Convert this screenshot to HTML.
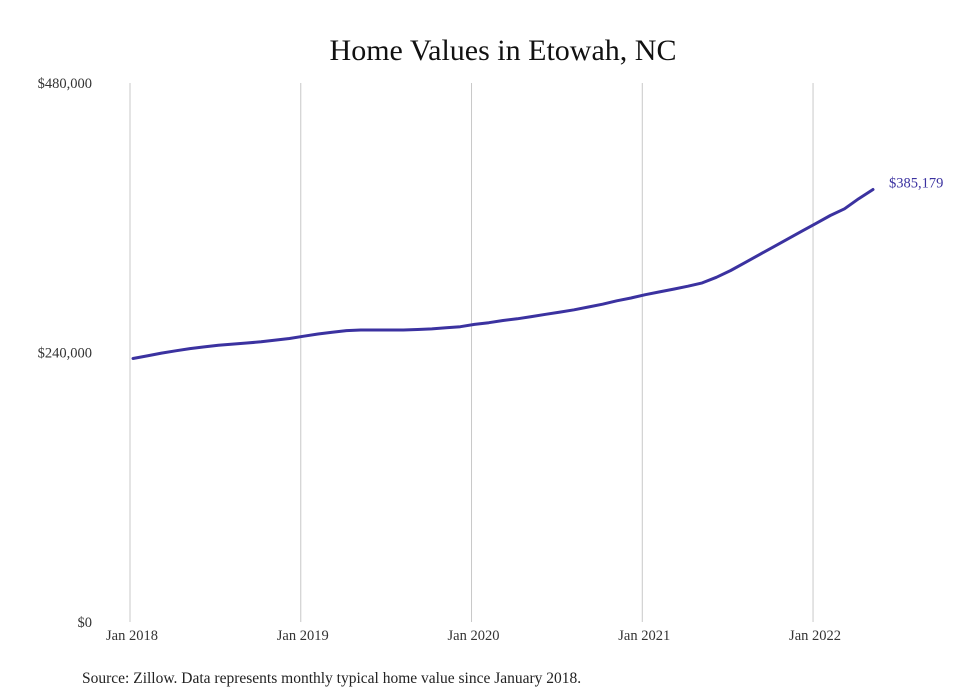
<!DOCTYPE html>
<html><head><meta charset="utf-8"><style>
body{margin:0;background:#fff;}
svg{display:block;font-family:"Liberation Serif",serif;}
</style></head><body>
<svg width="980" height="699" viewBox="0 0 980 699" xmlns="http://www.w3.org/2000/svg">
<rect width="980" height="699" fill="#fff"/>
<text x="503" y="60" text-anchor="middle" font-size="30" fill="#111">Home Values in Etowah, NC</text>
<g id="grid"></g><g id="yaxis"></g><g id="xaxis"></g><g id="series"></g>
<text x="82" y="683" font-size="15.5" fill="#222">Source: Zillow. Data represents monthly typical home value since January 2018.</text>
</svg>
<script>
const yTicks=[0,240000,480000];
const yTickLabels=["$0","$240,000","$480,000"];
const xTickMonths=[0,12,24,36,48];
const xTickLabels=["Jan 2018","Jan 2019","Jan 2020","Jan 2021","Jan 2022"];
const values=[234700,237000,239500,241500,243500,245000,246500,247500,248500,249500,251000,252500,
254500,256500,258000,259500,260000,260000,260000,260000,260500,261000,262000,263000,
265000,266500,268500,270000,272000,274000,276000,278000,280500,283000,286000,288500,
291500,294000,296500,299000,302000,307000,313000,320000,327000,334000,341000,348000,
355000,362000,368000,377000,385179];
const endLabel="$385,179";
const NS="http://www.w3.org/2000/svg";
const x=m=>130+m*14.23;
const y=v=>622-v/480000*539;
function mk(t,a,p){const e=document.createElementNS(NS,t);for(const k in a)e.setAttribute(k,a[k]);p.appendChild(e);return e;}
const grid=document.getElementById('grid'),ya=document.getElementById('yaxis'),xa=document.getElementById('xaxis'),se=document.getElementById('series');
xTickMonths.forEach((m,i)=>{
 const l=mk('line',{x1:x(m),x2:x(m),y1:83,y2:622,stroke:'#c8c8c8','stroke-width':1},grid);
 
 
 const t=mk('text',{x:x(m)+2,y:640,'text-anchor':'middle','font-size':14.5,fill:'#333'},xa);
 t.textContent=xTickLabels[i];
 
 
});
yTicks.forEach((v,i)=>{
 const t=mk('text',{x:92,y:y(v)+5,'text-anchor':'end','font-size':14.5,fill:'#333'},ya);
 t.textContent=yTickLabels[i];
 
 
});
const d=values.map((v,i)=>(i?'L':'M')+(x(i)+3).toFixed(1)+','+y(v).toFixed(1)).join(' ');
const p=mk('path',{d:d,fill:'none',stroke:'#3b32a0','stroke-width':3,'stroke-linejoin':'round','stroke-linecap':'round'},se);


const n=values.length-1;
const el=mk('text',{x:x(n)+19,y:y(values[n])-2,'font-size':14.5,fill:'#3b32a0'},se);
el.textContent=endLabel;


</script>
</body></html>
